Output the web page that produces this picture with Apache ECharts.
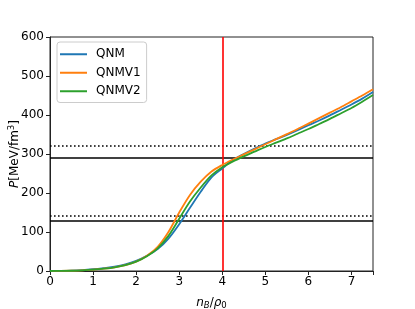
<!DOCTYPE html>
<html><head><meta charset="utf-8">
<script src="https://cdn.jsdelivr.net/npm/echarts@6/dist/echarts.min.js"></script>
<style>html,body{margin:0;padding:0;background:#fff}#c{width:415px;height:309px}</style>
</head><body><div id="c"></div>
<script>
const xs = [0,0.25,0.5,0.75,1,1.25,1.5,1.75,2,2.25,2.5,2.75,3,3.25,3.5,3.75,4,4.25,4.5,4.75,5,5.25,5.5,5.75,6,6.25,6.5,6.75,7,7.25,7.5];
const qnm   = [0,0.3,1,2.3,4.5,7.5,11,17,26,39,56,83,120,162,203,240,263,285,300,314,327,338,349,361,374,386,399,413,427,442,459];
const qnmv1 = [0,0.2,0.7,1.8,3.5,6,9.5,15,24,39,62,100,150,195,229,255,272,286,299,312,325,338,351,364,378,392,406,420,435,450,466];
const qnmv2 = [0,0.2,0.7,1.8,3.5,6,9.5,15,24,38,58,90,134,178,214,245,266,281,294,306,318,329,340,352,364,377,390,404,418,434,451];
const seriesNames = ['QNM','QNMV1','QNMV2'];
const solidLevels = [130, 290];
const dottedLevels = [142, 320];
const vLine = 4;
const xTicks = [0,1,2,3,4,5,6,7];
const yTicks = [0,100,200,300,400,500,600];

const colors = ['#1f77b4','#ff7f0e','#2ca02c'];
const font = 'DejaVu Sans';
const toPairs = arr => xs.map((x,i)=>[x,arr[i]]);
const values = [qnm, qnmv1, qnmv2];

const series = values.map((v,i)=>({
  name: seriesNames[i], type:'line', data: toPairs(v), smooth: 0.3,
  symbol:'none', lineStyle:{color:colors[i], width:1.8}, itemStyle:{color:colors[i]}, z: 5+i
}));
series.push({
  type:'line', data:[], silent:true,
  markLine:{symbol:'none', silent:true, label:{show:false}, animation:false,
    data:[
      ...solidLevels.map(v=>({yAxis:v, lineStyle:{color:'#000', width:1.6, type:'solid'}})),
      ...dottedLevels.map(v=>({yAxis:v, lineStyle:{color:'#000', width:1.6, type:[1.6,2.4]}})),
      {xAxis:vLine, lineStyle:{color:'#ff0000', width:1.6, type:'solid'}}
    ]}
});

const chart = echarts.init(document.getElementById('c'), null, {renderer:'canvas'});
chart.setOption({
  animation:false,
  backgroundColor:'#fff',
  grid:{left:50, right:42, top:37, bottom:38, containLabel:false, outerBoundsMode:'none',
        show:true, borderColor:'#222', borderWidth:1},
  legend:{
    orient:'vertical', left:57, top:42, data:seriesNames,
    icon:'rect', itemWidth:27, itemHeight:2, itemGap:6,
    backgroundColor:'rgba(255,255,255,0.8)', borderColor:'#ccc', borderWidth:1, borderRadius:3,
    padding:[6,6,5,3],
    textStyle:{fontFamily:font, fontSize:12, color:'#000', padding:[0,0,0,4], lineHeight:12.5}
  },
  xAxis:{
    type:'value', min:0, max:7.5, interval:1,
    axisLine:{show:true, onZero:false, lineStyle:{color:'#222', width:1}},
    axisTick:{show:true, length:4, inside:false, lineStyle:{color:'#222'}},
    splitLine:{show:false},
    axisLabel:{fontFamily:font, fontSize:12, color:'#000', margin:5,
      formatter:v=> xTicks.includes(v)? String(v) : ''},
    name:'{i|n}{si|B}{n|/}{i|ρ}{s|0}', nameLocation:'middle', nameGap:24, nameMoveOverlap:false,
    nameTextStyle:{rich:{
      i:{fontFamily:font, fontSize:12, fontStyle:'italic', color:'#000'},
      n:{fontFamily:font, fontSize:12, color:'#000'},
      si:{fontFamily:font, fontSize:8.5, fontStyle:'italic', color:'#000', padding:[6,0,0,0]},
      s:{fontFamily:font, fontSize:8.5, color:'#000', padding:[6,0,0,0]}
    }}
  },
  yAxis:{
    type:'value', min:0, max:600, interval:100,
    axisLine:{show:true, onZero:false, lineStyle:{color:'#222', width:1}},
    axisTick:{show:true, length:4, inside:false, lineStyle:{color:'#222'}},
    splitLine:{show:false},
    axisLabel:{fontFamily:font, fontSize:12, color:'#000', margin:6,
      formatter:v=> yTicks.includes(v)? String(v) : ''},
    name:'{i|P}{n|[MeV/fm}{s|3}{n|]}', nameLocation:'middle', nameGap:35, nameRotate:90, nameMoveOverlap:false,
    nameTextStyle:{align:'center', verticalAlign:'middle', rich:{
      i:{fontFamily:font, fontSize:12, fontStyle:'italic', color:'#000'},
      n:{fontFamily:font, fontSize:12, color:'#000'},
      s:{fontFamily:font, fontSize:8.5, color:'#000', padding:[0,0,7,0]}
    }}
  },
  series: series
});
</script></body></html>
